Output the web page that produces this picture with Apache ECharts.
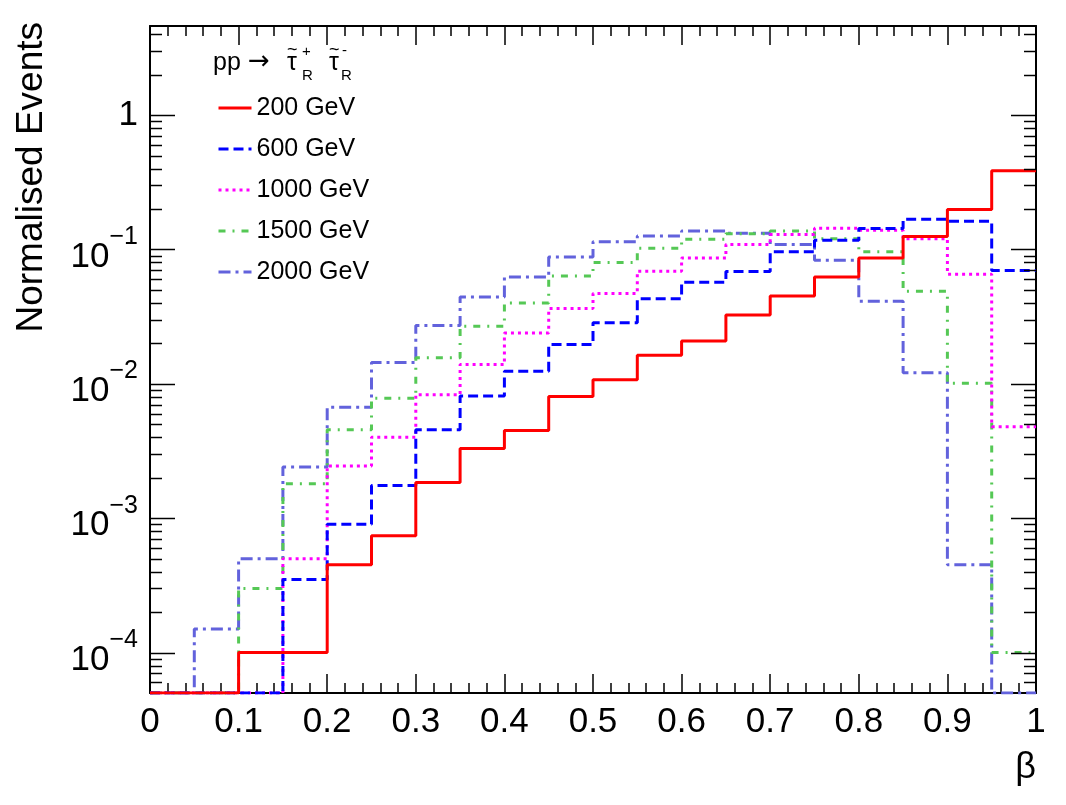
<!DOCTYPE html>
<html>
<head>
<meta charset="utf-8">
<script src="https://cdn.jsdelivr.net/npm/echarts@6/dist/echarts.min.js"></script>
<style>
html,body{margin:0;padding:0;background:#fff;}
#chart{width:1066px;height:805px;}
</style>
</head>
<body>
<div id="chart"></div>
<script>
// ---- data ----
const binEdges = [0,0.05,0.1,0.15,0.2,0.25,0.3,0.35,0.4,0.45,0.5,0.55,0.6,0.65,0.7,0.75,0.8,0.85,0.9,0.95];
const xEnd = 1.0;
const seriesNames = ['200 GeV','600 GeV','1000 GeV','1500 GeV','2000 GeV'];
const m200  = [0,0,1.0e-4,1.0e-4,4.5e-4,7.4e-4,1.84e-3,3.3e-3,4.5e-3,8.05e-3,0.0107,0.0163,0.0208,0.0325,0.045,0.0624,0.0865,0.125,0.198,0.385];
const m600  = [0,0,0,3.5e-4,9.0e-4,1.75e-3,4.55e-3,8.1e-3,0.0124,0.0196,0.0285,0.043,0.057,0.0685,0.096,0.117,0.143,0.168,0.162,0.0696];
const m1000 = [0,0,0,5.0e-4,2.45e-3,4.0e-3,8.3e-3,0.0139,0.0239,0.0363,0.047,0.0688,0.0865,0.109,0.129,0.144,0.139,0.12,0.0654,4.8e-3];
const m1500 = [0,0,3.0e-4,1.8e-3,4.55e-3,7.8e-3,0.0156,0.0268,0.040,0.0635,0.0798,0.102,0.119,0.131,0.137,0.12,0.096,0.0489,0.0101,1.0e-4];
const m2000 = [0,1.5e-4,5.0e-4,2.4e-3,6.7e-3,0.0144,0.0272,0.0443,0.0624,0.088,0.114,0.126,0.137,0.132,0.109,0.083,0.0411,0.0121,4.5e-4,0];
const yMajorTicks = [1e-4,1e-3,1e-2,1e-1,1];
const yMinorTicks = [6e-5,7e-5,8e-5,9e-5,
  2e-4,3e-4,4e-4,5e-4,6e-4,7e-4,8e-4,9e-4,
  2e-3,3e-3,4e-3,5e-3,6e-3,7e-3,8e-3,9e-3,
  2e-2,3e-2,4e-2,5e-2,6e-2,7e-2,8e-2,9e-2,
  0.2,0.3,0.4,0.5,0.6,0.7,0.8,0.9,
  2,3,4];
const YMIN = 5e-5, YMAX = 4.6;

// ---- styles ----
const colors = ['#ff0000','#0000ff','#ff00ff','#55c855','#6262dc'];
const dashes = ['solid',[10,5],[3,4],[7,7,2,7],[12,5,3,5]];
const allValues = [m200,m600,m1000,m1500,m2000];
const FONT = 'Liberation Sans, Arial, Helvetica, sans-serif';

function stepData(vals){
  const pts = binEdges.map((x,i)=>[x, Math.max(vals[i], YMIN)]);
  pts.push([xEnd, Math.max(vals[vals.length-1], YMIN)]);
  return pts;
}

const histSeries = allValues.map((vals,i)=>({
  name: seriesNames[i],
  type: 'line',
  step: 'end',
  symbol: 'none',
  showSymbol: false,
  data: stepData(vals),
  lineStyle: {color: colors[i], width: 3, type: dashes[i]},
  itemStyle: {color: colors[i]},
  z: 10 - i,
  clip: true
}));

const tickData = yMajorTicks.map(v=>[0,v,1]).concat(yMinorTicks.map(v=>[0,v,0]));
const tickSeries = {
  type: 'custom',
  silent: true,
  clip: false,
  z: 20,
  encode: {x:0, y:1},
  data: tickData,
  renderItem: function(params, api){
    const v = api.value(1);
    const major = api.value(2) === 1;
    const y = Math.round(api.coord([0, v])[1]) + 0.5;
    const cs = params.coordSys;
    const len = major ? 25 : 12;
    return {type:'group', children:[
      {type:'line', shape:{x1:cs.x, y1:y, x2:cs.x+len, y2:y}, style:{stroke:'#000', lineWidth:1.5}},
      {type:'line', shape:{x1:cs.x+cs.width, y1:y, x2:cs.x+cs.width-len, y2:y}, style:{stroke:'#000', lineWidth:1.5}}
    ]};
  }
};

function yLabel(v){
  const e = Math.round(Math.log10(v));
  if (Math.abs(v/Math.pow(10,e) - 1) > 1e-6) return '';
  if (e === 0) return '{o|1}';
  return '{b|10}{s|\u2212' + (-e) + '}';
}

const chart = echarts.init(document.getElementById('chart'), null, {renderer:'canvas'});
const xAxisCommon = {
  type: 'value', min: 0, max: 1, interval: 0.1,
  axisLine: {show:true, onZero:false, lineStyle:{color:'#000', width:2}},
  axisTick: {show:true, inside:true, length:19, lineStyle:{color:'#000', width:1.5}},
  minorTick: {show:true, splitNumber:5, length:10, lineStyle:{color:'#000', width:1.5}},
  splitLine: {show:false}
};
chart.setOption({
  animation: false,
  backgroundColor: '#fff',
  grid: {left:150, right:30, top:26, bottom:112, containLabel:false},
  xAxis: [
    Object.assign({}, xAxisCommon, {
      position: 'bottom',
      axisLabel: {show:true, margin:12, fontSize:35, color:'#000', fontFamily:FONT}
    }),
    Object.assign({}, xAxisCommon, {
      position: 'top',
      axisLabel: {show:false}
    })
  ],
  yAxis: [
    {
      type: 'log', logBase: 10, min: YMIN, max: YMAX, position: 'left',
      axisLine: {show:true, onZero:false, lineStyle:{color:'#000', width:2}},
      axisTick: {show:false},
      splitLine: {show:false},
      axisLabel: {
        show:true, margin:12, color:'#000', fontFamily:FONT,
        formatter: yLabel,
        showMinLabel: true, showMaxLabel: true,
        rich: {
          o: {fontSize:35, fontFamily:FONT, color:'#000', lineHeight:40, verticalAlign:'middle'},
          b: {fontSize:35, fontFamily:FONT, color:'#000', lineHeight:50, verticalAlign:'bottom'},
          s: {fontSize:25, fontFamily:FONT, color:'#000', lineHeight:25, verticalAlign:'top'}
        }
      }
    },
    {
      type: 'log', logBase: 10, min: YMIN, max: YMAX, position: 'right',
      axisLine: {show:true, onZero:false, lineStyle:{color:'#000', width:2}},
      axisTick: {show:false},
      splitLine: {show:false},
      axisLabel: {show:false}
    }
  ],
  legend: {
    data: seriesNames,
    orient: 'vertical',
    left: 217,
    top: 93,
    padding: 0,
    itemWidth: 33,
    itemHeight: 14,
    itemGap: 11,
    selectedMode: false,
    itemStyle: {opacity: 0},
    lineStyle: {width: 3},
    textStyle: {fontSize:25, fontFamily:FONT, color:'#000', lineHeight:30}
  },
  graphic: [
    {type:'text', x:32, y:22, rotation: Math.PI/2,
      style:{text:'Normalised Events', font:'37px ' + FONT, fill:'#000', align:'right', verticalAlign:'middle'}},
    {type:'text', x:1036, y:768,
      style:{text:'\u03b2', font:'36px ' + FONT, fill:'#000', align:'right', verticalAlign:'middle'}},
    {type:'text', x:213, y:63,
      style:{text:'pp', font:'25px ' + FONT, fill:'#000', align:'left', verticalAlign:'middle'}},
    {type:'text', x:248, y:62,
      style:{text:'\u2192', font:'26px DejaVu Sans, ' + FONT, fill:'#000', align:'left', verticalAlign:'middle'}},
    {type:'text', x:287, y:63,
      style:{text:'\u03c4', font:'25px ' + FONT, fill:'#000', align:'left', verticalAlign:'middle'}},
    {type:'text', x:287, y:50,
      style:{text:'~', font:'18px ' + FONT, fill:'#000', align:'left', verticalAlign:'middle'}},
    {type:'text', x:302, y:52,
      style:{text:'+', font:'15px ' + FONT, fill:'#000', align:'left', verticalAlign:'middle'}},
    {type:'text', x:302, y:76,
      style:{text:'R', font:'15px ' + FONT, fill:'#000', align:'left', verticalAlign:'middle'}},
    {type:'text', x:329, y:63,
      style:{text:'\u03c4', font:'25px ' + FONT, fill:'#000', align:'left', verticalAlign:'middle'}},
    {type:'text', x:329, y:50,
      style:{text:'~', font:'18px ' + FONT, fill:'#000', align:'left', verticalAlign:'middle'}},
    {type:'text', x:342, y:51,
      style:{text:'-', font:'15px ' + FONT, fill:'#000', align:'left', verticalAlign:'middle'}},
    {type:'text', x:341, y:76,
      style:{text:'R', font:'15px ' + FONT, fill:'#000', align:'left', verticalAlign:'middle'}}
  ],
  series: histSeries.concat([tickSeries])
});
</script>
</body>
</html>
